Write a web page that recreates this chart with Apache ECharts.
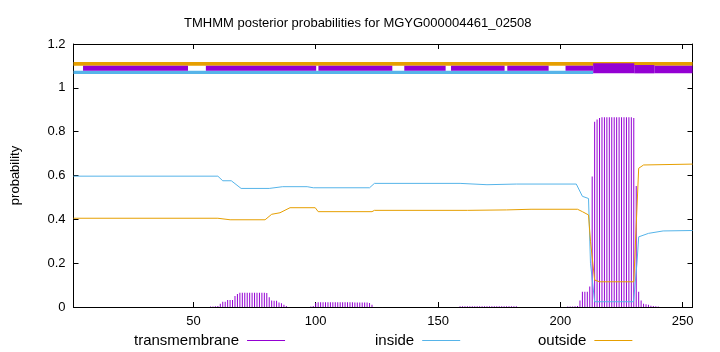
<!DOCTYPE html>
<html>
<head>
<meta charset="utf-8">
<script src="https://cdn.jsdelivr.net/npm/echarts@6/dist/echarts.min.js"></script>
<style>html,body{margin:0;padding:0;background:#fff}#c{width:720px;height:352px}</style>
</head>
<body>
<div id="c"></div>
<script>
// ---- data ----
const seqStart = 1;
const seqEnd = 254;
const xTicks = [50, 100, 150, 200, 250];

// posterior probability of transmembrane (per residue, impulses)
const transmembrane = [
  [57,0.002],[58,0.002],[59,0.003],[60,0.005],[61,0.015],[62,0.024],[63,0.024],[64,0.032],[65,0.032],[66,0.032],
  [67,0.05],[68,0.059],[69,0.065],[70,0.065],[71,0.065],[72,0.065],[73,0.065],[74,0.065],[75,0.065],[76,0.065],
  [77,0.065],[78,0.065],[79,0.065],[80,0.064],[81,0.045],[82,0.03],[83,0.029],[84,0.029],[85,0.02],[86,0.017],
  [87,0.01],[88,0.005],
  [98,0.002],[99,0.004],[100,0.018],[101,0.022],[102,0.022],[103,0.022],[104,0.022],[105,0.022],[106,0.022],
  [107,0.022],[108,0.022],[109,0.022],[110,0.022],[111,0.022],[112,0.022],[113,0.022],[114,0.022],[115,0.022],
  [116,0.021],[117,0.021],[118,0.021],[119,0.021],[120,0.02],[121,0.02],[122,0.018],[123,0.01],
  [159,0.003],[160,0.003],[161,0.003],[162,0.003],[163,0.003],[164,0.003],[165,0.003],[166,0.003],[167,0.003],
  [168,0.003],[169,0.003],[170,0.003],[171,0.003],[172,0.003],[173,0.003],[174,0.003],[175,0.003],[176,0.003],
  [177,0.003],[178,0.003],[179,0.003],[180,0.003],[181,0.003],[182,0.003],
  [203,0.002],[204,0.002],[205,0.002],[206,0.003],[207,0.004],[208,0.03],[209,0.07],[210,0.07],[211,0.07],[212,0.093],
  [213,0.595],[214,0.845],[215,0.855],[216,0.862],[217,0.866],[218,0.866],[219,0.866],[220,0.866],[221,0.866],
  [222,0.866],[223,0.866],[224,0.866],[225,0.866],[226,0.866],[227,0.866],[228,0.866],[229,0.866],[230,0.862],
  [231,0.552],[232,0.07],[233,0.03],[234,0.015],[235,0.012],[236,0.01],[237,0.006],[238,0.004],[239,0.003],[240,0.002]
];

// posterior probability of inside (read at break points)
const inside = [
  [1,0.597],[60,0.597],[62,0.576],[65.5,0.576],[69.5,0.541],[81,0.541],[86.5,0.549],[96.5,0.549],[99,0.544],
  [122,0.544],[124,0.564],[159,0.564],[170,0.558],[182,0.561],[206.5,0.561],[209,0.505],[211.5,0.495],
  [212.3,0.2],[214,0.024],[229.9,0.024],[231.3,0.2],[232,0.32],[236,0.336],[242,0.347],[254,0.349]
];

// posterior probability of outside (read at break points)
const outside = [
  [1,0.405],[60,0.405],[65,0.398],[79.3,0.398],[82,0.423],[85.4,0.43],[89.5,0.453],[99.8,0.453],[101,0.435],
  [123,0.435],[124,0.441],[162,0.441],[178,0.443],[188,0.446],[207,0.446],[209,0.435],[211.5,0.42],
  [212.3,0.3],[214,0.123],[216,0.115],[230,0.115],[232,0.633],[234,0.648],[254,0.652]
];

// topology strip at the top (residue ranges)
const stripOutside = [[1, 254]];
const stripInside = [[1, 213.4]];
const stripSegments = [[4.9,47.8],[55.1,100.2],[101.1,131.3],[136.2,153.1],[155.3,177.2],[178.3,195.2],[202.1,213.4]];
const stripHelix = [[213.4, 230.2]];
const stripShoulder = [[230.2, 238.4]];
const stripTail = [[238.4, 254]];

// ---- chart ----
const C_TM = '#9400d3', C_IN = '#56b4e9', C_OUT = '#e69f00';
const FONT = 'Liberation Sans, Arial, sans-serif';

function bandSeries(data, yLo, yHi, color, z) {
  return {
    type: 'custom', data: data, z: z, silent: true,
    encode: { x: [0, 1] },
    renderItem: function (params, api) {
      const p0 = api.coord([api.value(0), yHi]);
      const p1 = api.coord([api.value(1), yLo]);
      return { type: 'rect', shape: { x: p0[0], y: p0[1], width: p1[0] - p0[0], height: p1[1] - p0[1] },
               style: { fill: color } };
    }
  };
}

const chart = echarts.init(document.getElementById('c'), null, { renderer: 'canvas' });
const axisLineStyle = { color: '#000', width: 1 };
const legendText = { fontFamily: FONT, fontSize: 15, color: '#000', padding: [0, 3, 0, 0] };
chart.setOption({
  animation: false,
  backgroundColor: '#fff',
  title: {
    text: 'TMHMM posterior probabilities for MGYG000004461_02508',
    left: 179, top: 12,
    textStyle: { fontFamily: FONT, fontSize: 13, fontWeight: 'normal', color: '#000' }
  },
  grid: { left: 73.5, right: 27.5, top: 44, bottom: 45, containLabel: false, outerBoundsMode: 'none' },
  legend: [
    { data: ['transmembrane'], left: 129, top: 328, align: 'right', icon: 'rect', itemWidth: 38, itemHeight: 1, textStyle: legendText },
    { data: ['inside'], left: 370, top: 328, align: 'right', icon: 'rect', itemWidth: 38, itemHeight: 1, textStyle: legendText },
    { data: ['outside'], left: 533, top: 328, align: 'right', icon: 'rect', itemWidth: 38, itemHeight: 1, textStyle: legendText }
  ],
  xAxis: [
    { type: 'value', min: seqStart, max: seqEnd, position: 'bottom',
      axisLine: { show: true, onZero: false, lineStyle: axisLineStyle },
      axisTick: { show: true, inside: true, length: 5, customValues: xTicks, lineStyle: axisLineStyle },
      axisLabel: { customValues: xTicks, fontFamily: FONT, fontSize: 13, color: '#000', margin: 8 },
      splitLine: { show: false } },
    { type: 'value', min: seqStart, max: seqEnd, position: 'top',
      axisLine: { show: true, onZero: false, lineStyle: axisLineStyle },
      axisTick: { show: true, inside: true, length: 5, customValues: xTicks, lineStyle: axisLineStyle },
      axisLabel: { show: false }, splitLine: { show: false } }
  ],
  yAxis: [
    { type: 'value', min: 0, max: 1.2, interval: 0.2, position: 'left',
      name: 'probability', nameLocation: 'middle', nameGap: 52,
      nameTextStyle: { fontFamily: FONT, fontSize: 13, color: '#000' },
      axisLine: { show: true, onZero: false, lineStyle: axisLineStyle },
      axisTick: { show: true, inside: true, length: 5, lineStyle: axisLineStyle },
      axisLabel: { fontFamily: FONT, fontSize: 13, color: '#000', margin: 8 },
      splitLine: { show: false } },
    { type: 'value', min: 0, max: 1.2, interval: 0.2, position: 'right',
      axisLine: { show: true, onZero: false, lineStyle: axisLineStyle },
      axisTick: { show: true, inside: true, length: 5, lineStyle: axisLineStyle },
      axisLabel: { show: false }, splitLine: { show: false } }
  ],
  series: [
    bandSeries(stripOutside, 1.101, 1.118, C_OUT, 1),
    bandSeries(stripInside, 1.063, 1.078, C_IN, 1),
    bandSeries(stripSegments, 1.078, 1.101, C_TM, 2),
    bandSeries(stripHelix, 1.066, 1.112, C_TM, 3),
    bandSeries(stripShoulder, 1.066, 1.104, C_TM, 3),
    bandSeries(stripTail, 1.066, 1.101, C_TM, 3),
    { name: 'transmembrane', type: 'bar', data: transmembrane, barWidth: 1, z: 4,
      itemStyle: { color: C_TM }, large: false },
    { name: 'inside', type: 'line', data: inside, showSymbol: false, symbol: 'none', z: 5,
      lineStyle: { color: C_IN, width: 1 }, itemStyle: { color: C_IN } },
    { name: 'outside', type: 'line', data: outside, showSymbol: false, symbol: 'none', z: 6,
      lineStyle: { color: C_OUT, width: 1 }, itemStyle: { color: C_OUT } }
  ]
});
</script>
</body>
</html>
